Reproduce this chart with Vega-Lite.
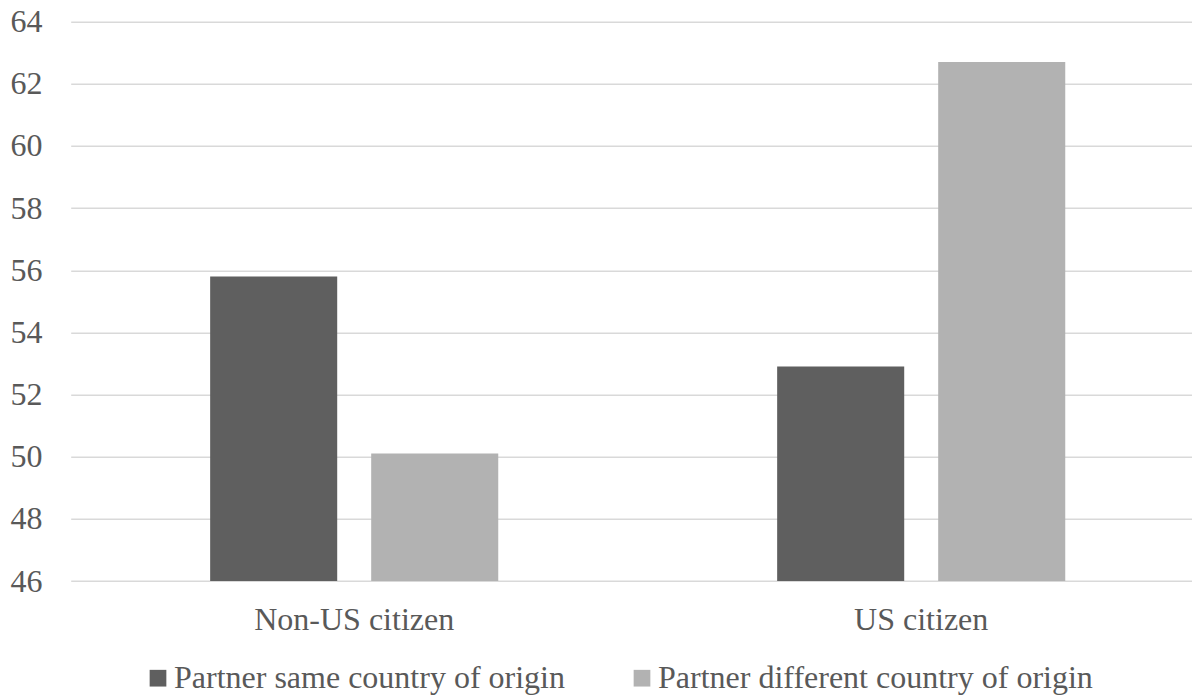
{
  "$schema": "https://vega.github.io/schema/vega-lite/v6.json",
  "autosize": {"type": "none"},
  "padding": {"left": 70.7, "top": 21.7, "right": 0, "bottom": 117},
  "width": 1121.3,
  "height": 559.3,
  "background": "white",
  "config": {
    "view": {"stroke": null},
    "font": "Liberation Serif, Times New Roman, serif",
    "axis": {"labelFont": "Liberation Serif, Times New Roman, serif", "labelColor": "#595959", "labelFontSize": 32}
  },
  "data": {
    "values": [
      {"citizenship": "Non-US citizen", "partner": "Partner same country of origin", "value": 55.8},
      {"citizenship": "Non-US citizen", "partner": "Partner different country of origin", "value": 50.1},
      {"citizenship": "US citizen", "partner": "Partner same country of origin", "value": 52.9},
      {"citizenship": "US citizen", "partner": "Partner different country of origin", "value": 62.7}
    ]
  },
  "mark": {"type": "bar"},
  "encoding": {
    "x": {
      "field": "citizenship",
      "type": "nominal",
      "sort": ["Non-US citizen", "US citizen"],
      "scale": {"range": [0, 1134], "paddingInner": 0, "paddingOuter": 0},
      "axis": {"title": null, "labelAngle": 0, "domain": false, "ticks": false, "tickSize": 0, "labelPadding": 23.5, "labelBaseline": "top", "labelLimit": 500}
    },
    "xOffset": {
      "field": "partner",
      "type": "nominal",
      "sort": ["Partner same country of origin", "Partner different country of origin"],
      "scale": {"paddingInner": 0.211, "paddingOuter": 0.866}
    },
    "y": {
      "field": "value",
      "type": "quantitative",
      "scale": {"domain": [46, 64], "nice": false, "zero": false},
      "axis": {"title": null, "values": [46, 48, 50, 52, 54, 56, 58, 60, 62, 64], "domain": false, "ticks": false, "tickSize": 0, "labelPadding": 28.7, "gridColor": "#d9d9d9", "gridWidth": 1.6}
    },
    "y2": {"datum": 46},
    "color": {
      "field": "partner",
      "type": "nominal",
      "sort": ["Partner same country of origin", "Partner different country of origin"],
      "scale": {"domain": ["Partner same country of origin", "Partner different country of origin"], "range": ["#5f5f5f", "#b2b2b2"]},
      "legend": {
        "title": null,
        "orient": "none",
        "legendX": 71.3,
        "legendY": 640.5,
        "direction": "horizontal",
        "padding": 0,
        "symbolType": "square",
        "symbolSize": 279,
        "symbolStrokeWidth": 0,
        "labelFont": "Liberation Serif, Times New Roman, serif",
        "labelFontSize": 32,
        "labelColor": "#595959",
        "labelOffset": 0,
        "labelLimit": 800,
        "columnPadding": 61
      }
    }
  }
}
